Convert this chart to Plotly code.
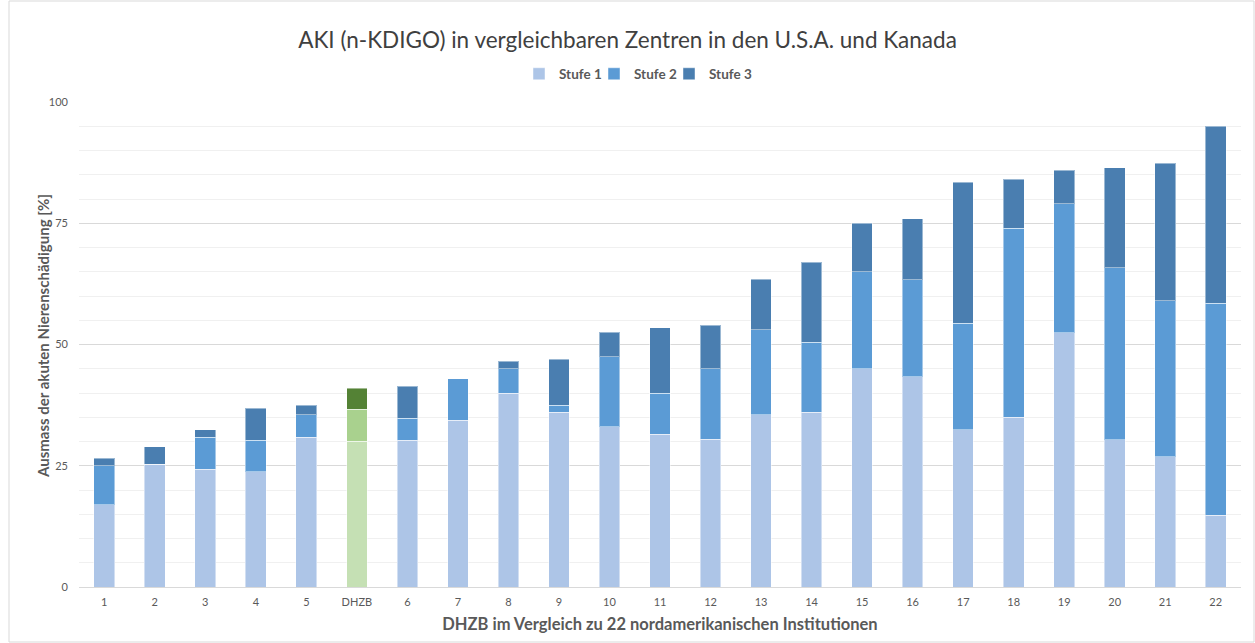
import plotly.graph_objects as go

categories = ["1", "2", "3", "4", "5", "DHZB", "6", "7", "8", "9", "10", "11",
              "12", "13", "14", "15", "16", "17", "18", "19", "20", "21", "22"]
stufe1 = [17.0, 25.3, 24.3, 23.8, 30.9, 30.1, 30.3, 34.4, 40.0, 36.0, 33.0, 31.5,
          30.5, 35.5, 36.0, 45.0, 43.4, 32.4, 35.0, 52.4, 30.4, 26.9, 14.8]
stufe2 = [8.0, 0.0, 6.6, 6.5, 4.6, 6.5, 4.5, 8.5, 5.0, 1.5, 14.5, 8.5,
          14.5, 17.5, 14.5, 20.0, 20.0, 22.0, 39.0, 26.6, 35.4, 32.1, 43.7]
stufe3 = [1.5, 3.6, 1.5, 6.6, 2.0, 4.4, 6.6, 0.0, 1.5, 9.5, 5.0, 13.5,
          9.0, 10.5, 16.5, 10.0, 12.5, 29.1, 10.1, 6.9, 20.6, 28.4, 36.5]
series_names = ["Stufe 1", "Stufe 2", "Stufe 3"]
highlight = "DHZB"

blue = ["#adc5e7", "#5b9bd5", "#4a7eb0"]
green = ["#c5e0b4", "#a9d18e", "#548235"]

fig = go.Figure()
for name, vals, bc, gc in zip(series_names, [stufe1, stufe2, stufe3], blue, green):
    colors = [gc if c == highlight else bc for c in categories]
    fig.add_trace(go.Bar(
        x=categories, y=vals, name=name,
        marker=dict(color=colors, line=dict(color="rgba(255,255,255,0.45)", width=1)),
    ))
# empty spacer entry so the last legend label is not clipped
fig.add_trace(go.Bar(x=[None], y=[None], name=" ", showlegend=True, hoverinfo="skip",
                     marker=dict(color="rgba(0,0,0,0)", line=dict(width=0))))

W, H = 1255, 643
L, R, T, B = 79, 14, 102, 56
pw, ph = W - L - R, H - T - B

fig.update_layout(
    width=W, height=H,
    barmode="stack", bargap=0.59,
    margin=dict(l=L, r=R, t=T, b=B),
    paper_bgcolor="white", plot_bgcolor="white",
    font=dict(family="Lato, Carlito, Noto Sans, sans-serif", color="#595959"),
    title=dict(text="AKI (n-KDIGO) in vergleichbaren Zentren in den U.S.A. und Kanada",
               x=0.5, xanchor="center", y=1 - 40 / H, yanchor="middle", yref="container",
               font=dict(size=22.5, color="#404040")),
    legend=dict(orientation="h", x=(519 - L) / pw, xanchor="left", y=1 + 28 / ph, yanchor="middle",
                font=dict(size=13.5, color="#595959", weight="bold"),
                itemwidth=30, entrywidth=30, entrywidthmode="pixels",
                tracegroupgap=0, traceorder="normal"),
    showlegend=True,
    xaxis=dict(type="category", showgrid=False, showline=True, linecolor="#d9d9d9",
               linewidth=1, ticks="", tickfont=dict(size=11, color="#595959"),
               ticklabelstandoff=5,
               title=dict(text="DHZB im Vergleich zu 22 nordamerikanischen Institutionen",
                          font=dict(size=16.5, color="#595959", weight="bold"), standoff=11)),
    yaxis=dict(range=[0, 100], tickvals=[0, 25, 50, 75, 100], showgrid=True,
               gridcolor="#d9d9d9", gridwidth=1, zeroline=False, showline=False,
               tickfont=dict(size=11, color="#595959"), ticklabelstandoff=10,
               minor=dict(dtick=5, showgrid=True, gridcolor="#f0f0f0", gridwidth=1)),
)

fig.add_annotation(text="Ausmass der akuten Nierenschädigung [%]", textangle=-90,
                   xref="paper", yref="paper", x=(43 - L) / pw, y=(587 - 336) / ph,
                   xanchor="center", yanchor="middle", showarrow=False,
                   font=dict(size=15, color="#595959", weight="bold"))

fig.add_shape(type="rect", xref="paper", yref="paper",
              x0=(9 - L) / pw, x1=(W - 1 - L) / pw, y0=-(B - 1) / ph, y1=1 + (T - 1) / ph,
              line=dict(color="#d9d9d9", width=1), layer="below")

fig.write_html("out.html", config={"displayModeBar": False},
               post_script="document.body.style.margin='0';")
